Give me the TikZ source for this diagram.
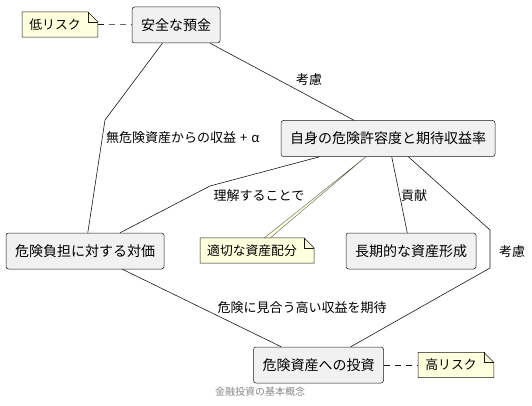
\documentclass[tikz,border=0pt]{standalone}
\usepackage{fontspec}
\setmainfont{Noto Sans CJK JP}
\usepackage{tikz}
\usetikzlibrary{calc,backgrounds}
\definecolor{boxgray}{HTML}{F1F1F1}
\definecolor{noteyellow}{HTML}{FEFFDD}
\definecolor{linedark}{HTML}{181818}
\definecolor{captiongray}{HTML}{888888}
\tikzset{
	concept/.style={draw=linedark, fill=boxgray, rounded corners=2.5pt, line width=0.5pt,
		minimum height=36pt, inner xsep=9pt, font=\fontsize{14}{16}\selectfont},
	memo/.style={minimum height=25pt, inner xsep=7pt, inner ysep=0pt, font=\fontsize{12.8}{15}\selectfont},
	memoshape/.style={draw=linedark, fill=noteyellow, line width=0.5pt},
	link/.style={draw=linedark, line width=0.6pt},
	notelink/.style={link, dash pattern=on 6pt off 5pt},
	wedge/.style={draw=linedark!70!noteyellow, fill=noteyellow, line width=0.4pt},
	tag/.style={font=\fontsize{13}{15}\selectfont, inner sep=0pt},
}
\begin{document}
\begin{tikzpicture}[x=1pt,y=-1pt]
		\useasboundingbox (0,0) rectangle (532,406);

		\node[concept] (deposit) at (176,25) {安全な預金};
		\node[concept] (tolerance) at (388,138.5) {自身の危険許容度と期待収益率};
		\node[concept] (reward) at (85,251) {危険負担に対する対価};
		\node[concept] (growth) at (411,251) {長期的な資産形成};
		\node[concept] (invest) at (318.5,365) {危険資産への投資};

		\node[memo] (lowrisk) at (55,24.5) {低リスク};
		\node[memo] (alloc) at (252,250.5) {適切な資産配分};
		\node[memo] (highrisk) at (451,365) {高リスク};

		\begin{scope}[on background layer]
		\foreach \n in {lowrisk,alloc,highrisk}{
			\filldraw[memoshape] (\n.south west) -- (\n.north west) -- (\n.north east)
				-- ([xshift=10pt,yshift=-10pt]\n.north east) -- ([xshift=10pt]\n.south east) -- cycle;
			\draw[memoshape, fill=none] (\n.north east) |- ([xshift=10pt,yshift=-10pt]\n.north east);
		}
		\end{scope}

		\coordinate (bendA) at (105,120);
		\coordinate (bendB) at (210,186);
		\coordinate (bendC) at (490,230);
		\coordinate (bendD) at (490,268);

		\draw[link] (deposit) -- (bendA) -- (reward);
		\draw[link] (deposit) -- (tolerance);
		\draw[link] (tolerance) -- (bendB) -- (reward);
		\draw[link] (tolerance) -- (growth);
		\draw[link] (tolerance) -- (bendC) -- (bendD) -- (invest);
		\draw[link] (reward) -- (invest);

		\path (tolerance) -- (alloc) coordinate[pos=0] (allocTip) coordinate[pos=1] (allocFoot);
		\filldraw[wedge] (allocTip) -- ([xshift=-3pt]allocFoot) -- ([xshift=3pt]allocFoot) -- cycle;

		\draw[notelink] ([xshift=10pt]lowrisk.east) -- (deposit);
		\draw[notelink] (invest) -- (highrisk);

		\node[tag, anchor=west] (lblRiskfree) at (106,138) {無危険資産からの収益\hspace{4pt}+\hspace{4pt}α};
		\node[tag] (lblConsiderA) at (309,80) {考慮};
		\node[tag] (lblUnderstand) at (259,196) {理解することで};
		\node[tag] (lblContribute) at (414,196) {貢献};
		\node[tag] (lblConsiderB) at (512,252) {考慮};
		\node[tag] (lblExpect) at (302,308) {危険に見合う高い収益を期待};

		\node[font=\fontsize{10}{12}\selectfont, text=captiongray] (caption) at (260,392) {金融投資の基本概念};
	\end{tikzpicture}
\end{document}
